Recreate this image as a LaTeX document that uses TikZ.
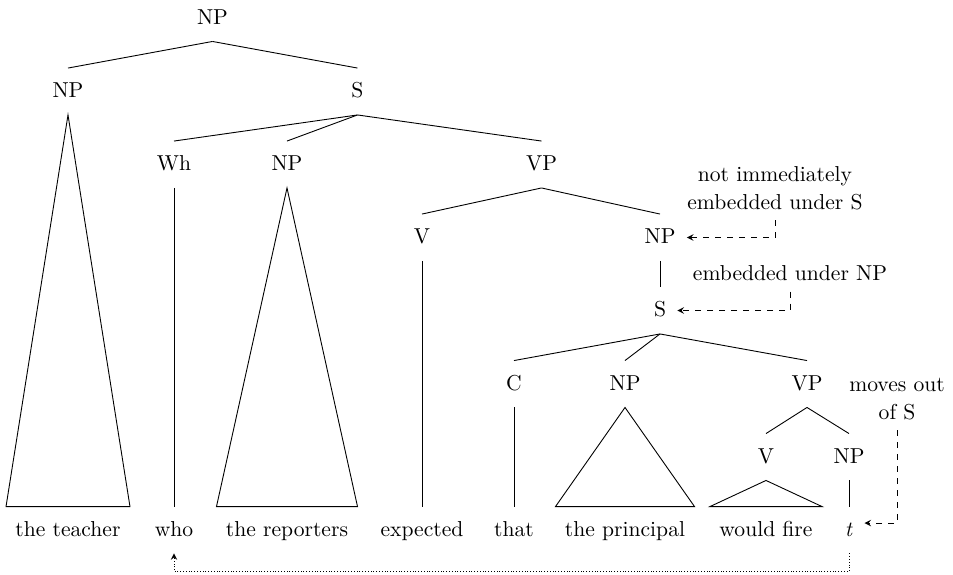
\documentclass[tikz,border=0pt]{standalone}
\usepackage{tikz}
\usetikzlibrary{arrows}

\begin{document}
\begin{tikzpicture}[x=0.5pt,y=-0.5pt,>=stealth,line width=0.45pt,font=\fontsize{10.8}{14}\selectfont,
    cat/.style={inner xsep=4.5pt,inner ysep=6pt,text height=8.5pt,text depth=2.5pt},
    word/.style={cat},
    note/.style={align=center,inner sep=5pt,anchor=south},
    move/.style={->,dashed,shorten >=1pt}]
  \useasboundingbox (0,0) rectangle (953,574);

  \node [cat] (np0) at (212.5,18) {NP};
  \node [cat] (np1) at (68,91.5) {NP};
  \node [cat] (s1) at (357.5,91.5) {S};
  \node [cat] (wh) at (174,164.5) {Wh};
  \node [cat] (np2) at (287,164.5) {NP};
  \node [cat] (vp1) at (541.5,164.5) {VP};
  \node [cat] (v1) at (422,237.5) {V};
  \node [cat] (np3) at (660,237.5) {NP};
  \node [cat] (s2) at (660,310.5) {S};
  \node [cat] (c) at (514,384) {C};
  \node [cat] (np4) at (625,384) {NP};
  \node [cat] (vp2) at (807,384) {VP};
  \node [cat] (v2) at (766,457) {V};
  \node [cat] (np5) at (849,457) {NP};

  \node [word] (teacher) at (68,530) {the teacher};
  \node [word] (who) at (174,530) {who};
  \node [word] (reporters) at (287,530) {the reporters};
  \node [word] (expected) at (422,530) {expected};
  \node [word] (that) at (514,530) {that};
  \node [word] (principal) at (625,530) {the principal};
  \node [word] (wouldfire) at (766,530) {would fire};
  \node [word] (t) at (849,530) {\textit{t}};

  \path (np0.south) edge (np1.north) edge (s1.north)
        (s1.south) edge (wh.north) edge (np2.north) edge (vp1.north)
        (vp1.south) edge (v1.north) edge (np3.north)
        (np3.south) edge (s2.north)
        (s2.south) edge (c.north) edge (np4.north) edge (vp2.north)
        (vp2.south) edge (v2.north) edge (np5.north)
        (wh.south) edge (who.north)
        (v1.south) edge (expected.north)
        (c.south) edge (that.north)
        (np5.south) edge (t.north);

  \draw (np1.south) -- (teacher.north west) -- (teacher.north east) -- cycle;
  \draw (np2.south) -- (reporters.north west) -- (reporters.north east) -- cycle;
  \draw (np4.south) -- (principal.north west) -- (principal.north east) -- cycle;
  \draw (v2.south) -- (wouldfire.north west) -- (wouldfire.north east) -- cycle;

  \node [note] (n1) at (775,220) {not immediately\\embedded under S};
  \node [note] (n2) at (790,291.5) {embedded under NP};
  \node [note] (n3) at (897,430) {moves out\\of S};

  \draw [move] (n1.south) |- (np3.east);
  \draw [move] (n2.south) |- (s2.east);
  \draw [move] (n3.south) |- ([yshift=3.5pt]t.east);
  \draw [->,densely dotted,line width=0.4pt] (t.south) -- ++(0,18) -| (who.south);
\end{tikzpicture}
\end{document}
